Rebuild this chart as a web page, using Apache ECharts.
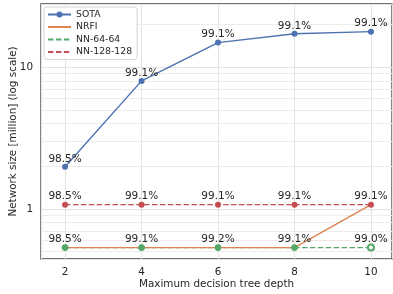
<!doctype html>
<html>
<head>
<meta charset="UTF-8">
<title>Network size vs tree depth</title>
<script src="https://cdn.jsdelivr.net/npm/echarts@6/dist/echarts.min.js"></script>
<style>
  html, body { margin: 0; padding: 0; background: #fff; }
  #main { width: 393px; height: 294px; }
</style>
</head>
<body>
<div id="main"></div>
<script>
// data
var depths = [2, 4, 6, 8, 10];
var sota = [1.98, 8.0, 14.9, 17.2, 17.8];
var nrfi = [0.533, 0.533, 0.533, 0.533, 1.07];
var nn64 = [0.533, 0.533, 0.533, 0.533, 0.533];
var nn128 = [1.07, 1.07, 1.07, 1.07, 1.07];
var accSota = ['98.5%', '99.1%', '99.1%', '99.1%', '99.1%'];
var accNn64 = ['98.5%', '99.1%', '99.2%', '99.1%', '99.0%'];
var accNn128 = ['98.5%', '99.1%', '99.1%', '99.1%', '99.1%'];
var minorTicks = [0.5, 0.6, 0.7, 0.8, 0.9, 2, 3, 4, 5, 6, 7, 8, 9, 20];

var FONT = 'DejaVu Sans';
var TXT = '#262626';
var blue = '#4c72b0', orange = '#dd8452', green = '#55a868', red = '#c44e52';
var DASH = [5.5, 2.4];

function pts(ys, labels, hollowLast) {
  return depths.map(function(x, i) {
    var d = { value: [x, ys[i]] };
    if (labels) d.label = { formatter: labels[i] };
    if (hollowLast && i === ys.length - 1) d.symbol = 'emptyCircle';
    return d;
  });
}

var accLabel = {
  show: true,
  position: 'inside',
  offset: [0, -8],
  fontFamily: FONT,
  fontSize: 10.5,
  color: TXT,
  textBorderWidth: 0
};

var chart = echarts.init(document.getElementById('main'));
chart.setOption({
  animation: false,
  textStyle: { fontFamily: FONT },
  grid: {
    left: 41, right: 1, top: 4, bottom: 35,
    outerBoundsMode: 'none',
    containLabel: false,
    show: true, borderColor: '#444', borderWidth: 1.3, backgroundColor: 'transparent'
  },
  legend: {
    orient: 'vertical',
    left: 44, top: 7, z: 10,
    data: [
      { name: 'SOTA' },
      { name: 'NRFI', itemStyle: { opacity: 0 } },
      { name: 'NN-64-64', itemStyle: { opacity: 0 } },
      { name: 'NN-128-128', itemStyle: { opacity: 0 } }
    ],
    itemWidth: 23, itemHeight: 7.5, itemGap: 3.5,
    padding: [3, 5, 3, 3],
    backgroundColor: '#fff',
    borderColor: '#d6d6d6', borderWidth: 1, borderRadius: 3,
    textStyle: { fontFamily: FONT, fontSize: 9.3, color: TXT }
  },
  xAxis: {
    type: 'value',
    min: 1.37, max: 10.55,
    name: 'Maximum decision tree depth',
    nameLocation: 'middle', nameGap: 25, nameMoveOverlap: false,
    nameTextStyle: { fontFamily: FONT, fontSize: 10.4, color: TXT, verticalAlign: 'middle' },
    axisLine: { show: false },
    axisTick: { show: false },
    axisLabel: { showMinLabel: false, showMaxLabel: false, margin: 8, fontFamily: FONT, fontSize: 10.4, color: TXT },
    splitLine: { show: true, lineStyle: { color: '#e3e3e3', width: 1 } }
  },
  yAxis: {
    type: 'log', logBase: 10,
    min: 0.443, max: 27.9,
    name: 'Network size [million] (log scale)',
    nameLocation: 'middle', nameGap: 28, nameMoveOverlap: false,
    nameTextStyle: { fontFamily: FONT, fontSize: 10.4, color: TXT, verticalAlign: 'middle' },
    axisLine: { show: false },
    axisTick: { show: false },
    axisLabel: { showMinLabel: false, showMaxLabel: false, margin: 8, fontFamily: FONT, fontSize: 10.4, color: TXT },
    splitLine: { show: true, lineStyle: { color: '#e3e3e3', width: 1 } }
  },
  series: [
    {
      name: 'minor', type: 'line', data: [], z: 0, silent: true,
      markLine: {
        silent: true, symbol: 'none', label: { show: false }, z: 0,
        lineStyle: { color: '#ececec', width: 1, type: 'solid' },
        data: minorTicks.map(function(v) { return { yAxis: v }; })
      }
    },
    {
      name: 'NN-64-64', type: 'line', data: pts(nn64), z: 2,
      symbol: 'none', lineStyle: { color: green, width: 1.3, type: DASH }, itemStyle: { color: green }
    },
    {
      name: 'NRFI', type: 'line', data: pts(nrfi), z: 3,
      symbol: 'none', lineStyle: { color: orange, width: 1.4 }, itemStyle: { color: orange }
    },
    {
      name: 'NN-128-128', type: 'line', data: pts(nn128), z: 3,
      symbol: 'none', lineStyle: { color: red, width: 1.3, type: DASH }, itemStyle: { color: red }
    },
    {
      name: 'nn64pts', type: 'scatter', data: pts(nn64, accNn64, true), z: 4,
      symbol: 'circle', symbolSize: 6, itemStyle: { color: green, borderColor: green, opacity: 1 },
      label: accLabel
    },
    {
      name: 'nn128pts', type: 'scatter', data: pts(nn128, accNn128), z: 4,
      symbol: 'circle', symbolSize: 6, itemStyle: { color: red, opacity: 1 },
      label: accLabel
    },
    {
      name: 'SOTA', type: 'line', data: pts(sota, accSota), z: 5,
      symbol: 'circle', symbolSize: 6, showSymbol: true,
      lineStyle: { color: blue, width: 1.4 }, itemStyle: { color: blue },
      label: accLabel
    }
  ]
});
</script>
</body>
</html>
